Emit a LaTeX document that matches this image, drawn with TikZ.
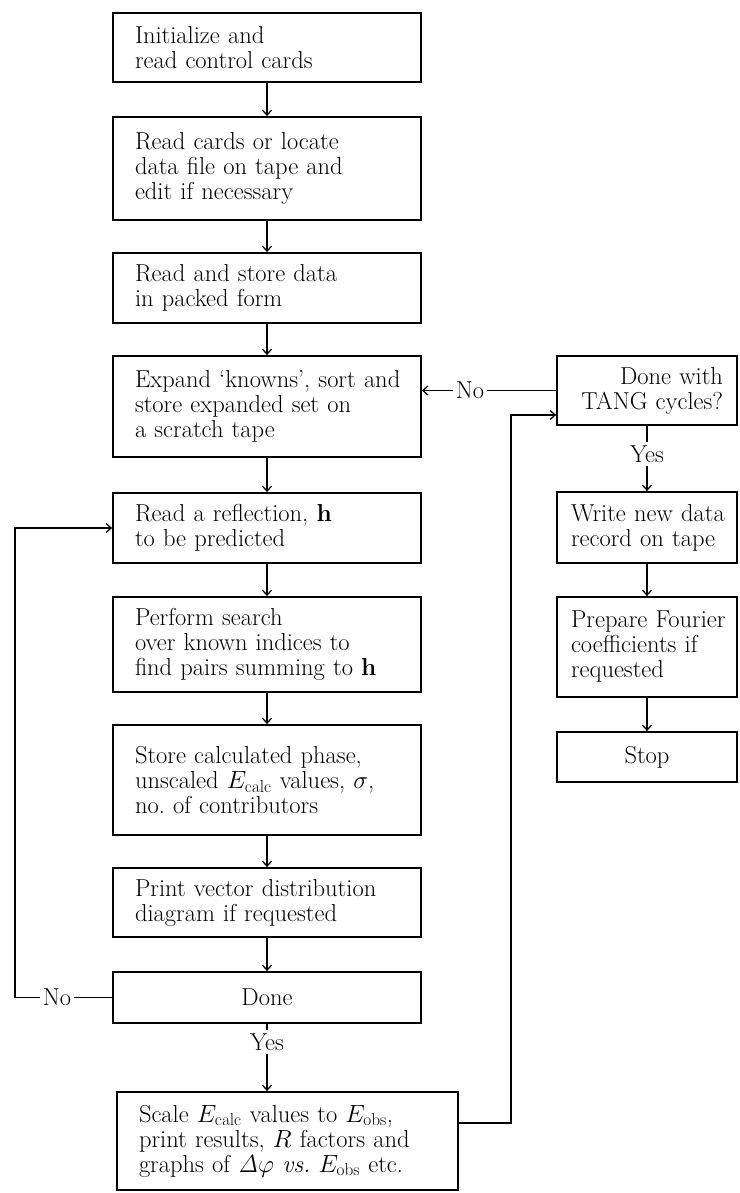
\documentclass[tikz,border=0pt]{standalone}
\usetikzlibrary{arrows.meta}
\begin{document}
\begin{tikzpicture}[x=1pt,y=-1pt,
  txt/.style={font=\fontsize{24.5}{25}\selectfont},
  lbox/.style={txt, draw, line width=1.8pt, minimum width=308pt, inner xsep=22pt, inner ysep=2pt, text width=264pt, align=left},
  rbox/.style={txt, draw, line width=1.8pt, minimum width=180pt, inner xsep=14pt, inner ysep=2pt, text width=152pt, align=left},
  conn/.style={line width=1.3pt},
  arr/.style={conn, -{Straight Barb[length=5pt,width=9pt]}},
  lab/.style={txt, inner sep=3pt}
]
\useasboundingbox (0,0) rectangle (739,1193);

% left column
\node[lbox, minimum height=69pt]  (init)      at (267,47.5)  {Initialize and\\read control cards};
\node[lbox, minimum height=103pt] (readcards) at (267,168.5) {Read cards or locate\\data file on tape and\\edit if necessary};
\node[lbox, minimum height=70pt]  (readstore) at (267,288)   {Read and store data\\in packed form};
\node[lbox, minimum height=101pt] (expand)    at (267,406.5) {Expand~`knowns',~sort~and\\store expanded set on\\a scratch tape};
\node[lbox, minimum height=70pt]  (reflect)   at (267,528)   {Read a reflection, \textbf{h}\\to be predicted};
\node[lbox, minimum height=95pt]  (search)    at (267,644.5) {Perform search\\over known indices to\\find~pairs~summing~to~\textbf{h}};
\node[lbox, minimum height=110pt] (store)     at (267,780)   {Store calculated phase,\\unscaled~$E_{\mathrm{calc}}$~values,~$\sigma$,\\no.~of~contributors};
\node[lbox, minimum height=69pt]  (print)     at (267,902.5) {Print~vector~distribution\\diagram if requested};
\node[lbox, minimum height=51pt, align=center] (done) at (267,997.5) {Done};
\node[lbox, minimum width=341pt, text width=297pt, minimum height=98pt] (scale) at (287.5,1141)
  {Scale~$E_{\mathrm{calc}}$~values~to~$E_{\mathrm{obs}}$,\\print~results,~$R$~factors~and\\graphs~of~$\mathit{\Delta}\varphi$~\textit{vs.}~$E_{\mathrm{obs}}$~etc.};

% right column
\node[rbox, minimum height=69pt, align=right] (tang) at (647,390.5) {Done~with\\TANG~cycles?};
\node[rbox, minimum height=71pt]  (write)   at (647,527.5) {Write~new~data\\record~on~tape};
\node[rbox, minimum height=100pt] (prepare) at (647,647)   {Prepare~Fourier\\coefficients~if\\requested};
\node[rbox, minimum height=50pt, align=center] (stop) at (647,757) {Stop};

% labels
\node[lab] (nodone) at (57,997.5) {No};
\node[lab] (yesdone) at (267,1042) {Yes};
\node[lab] (notang) at (470,390.5) {No};
\node[lab] (yestang) at (647,454) {Yes};

\coordinate (lturn) at (15,997.5);
\coordinate (rturn) at (511,1123);

% left column arrows
\draw[arr] (init) -- (readcards);
\draw[arr] (readcards) -- (readstore);
\draw[arr] (readstore) -- (expand);
\draw[arr] (expand) -- (reflect);
\draw[arr] (reflect) -- (search);
\draw[arr] (search) -- (store);
\draw[arr] (store) -- (print);
\draw[arr] (print) -- (done);

% done loops
\draw[conn] (done.west) -- (nodone.east);
\draw[arr] (nodone.west) -- (lturn) |- (reflect.west);
\draw[conn] (done.south) -- (yesdone.north);
\draw[arr] (yesdone.south) -- (yesdone.south |- scale.north);

% scale to tang
\draw[arr] (scale.east |- rturn) -- (rturn) |- ([yshift=-24.5pt]tang.west);

% tang
\draw[conn] (tang.west) -- (notang.east);
\draw[arr] (notang.west) -- (notang.west -| expand.east);
\draw[conn] (tang.south) -- (yestang.north);
\draw[arr] (yestang.south) -- (write.north);
\draw[arr] (write) -- (prepare);
\draw[arr] (prepare) -- (stop);
\end{tikzpicture}
\end{document}
